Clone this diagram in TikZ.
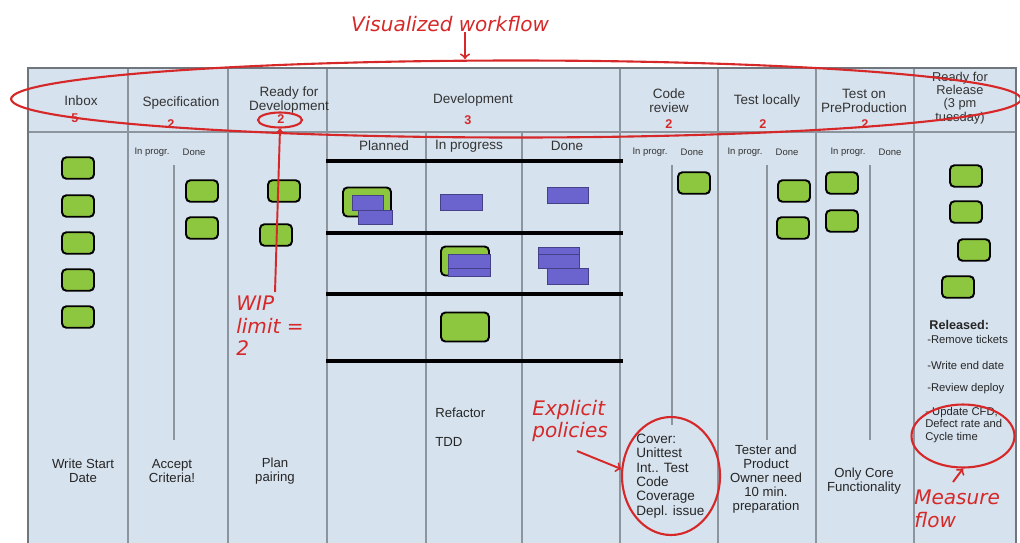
\documentclass[tikz,border=0pt]{standalone}
\usepackage{fontspec}
\setmainfont{Liberation Sans}
\newfontfamily\handfont{DejaVu Sans}
\usetikzlibrary{shapes.geometric}

\definecolor{boardbg}{RGB}{214,226,238}
\definecolor{lanegray}{RGB}{140,148,158}
\definecolor{cardgreen}{RGB}{141,198,63}
\definecolor{ticketblue}{RGB}{108,100,206}
\definecolor{annored}{RGB}{214,40,40}

\tikzset{
  lane/.style={draw=lanegray, line width=0.6pt},
  card/.style={draw=black, line width=1.1pt, fill=cardgreen, rounded corners=2.5pt,
    minimum width=0.64cm, minimum height=0.43cm, inner sep=0pt},
  bigcard/.style={card, minimum width=0.96cm, minimum height=0.58cm},
  ticket/.style={draw=ticketblue!65!black, line width=0.4pt, fill=ticketblue},
  head/.style={font=\fontsize{7.7}{7.9}\selectfont, align=center, text=black!80, inner sep=0pt},
  limit/.style={font=\bfseries\fontsize{7.2}{8}\selectfont, text=annored, inner sep=0pt},
  sub/.style={font=\fontsize{5.4}{6}\selectfont, text=black!80, inner sep=0pt},
  note/.style={font=\fontsize{7.5}{7.9}\selectfont, align=center, text=black!85, inner sep=0pt},
  small/.style={font=\fontsize{6.4}{7.1}\selectfont, align=left, text=black!85, inner sep=0pt, anchor=west},
  hand/.style={font=\handfont\itshape\fontsize{11.4}{12.8}\selectfont, text=annored, align=left, inner sep=0pt},
  ring/.style={ellipse, draw=annored, line width=1.2pt, inner sep=0pt},
  annot/.style={draw=annored, line width=1.1pt, ->},
}

\begin{document}
\begin{tikzpicture}[x=0.02cm, y=-0.02cm]
\useasboundingbox (0,0) rectangle (1020,542);

% board
\fill[boardbg] (28,68) rectangle (1016,545);
\draw[lane] (28,132) -- (1016,132);
\foreach \x in {128,228,327,620,718,816,914} \draw[lane] (\x,68) -- (\x,545);
\foreach \x in {426,522} \draw[lane] (\x,132) -- (\x,545);
\foreach \x/\e in {174/440,672/425,767/440,870/440} \draw[lane] (\x,165) -- (\x,\e);
\draw[draw=lanegray!80!black, line width=1.3pt] (28,545) -- (28,68) -- (1016,68) -- (1016,545);

% column heads
\node[head] (hin) at (81,101) {Inbox};
\node[head] (hsp) at (181,103) {Specification};
\node[head] (hrd) at (289,100) {Ready for\\Development};
\node[head] (hdv) at (473,100) {Development};
\node[head] (hcr) at (669,101) {Code\\review};
\node[head] (htl) at (767,101) {Test locally};
\node[head] (hpp) at (864,101) {Test on\\PreProduction};
\node[head, font=\fontsize{7.3}{7.6}\selectfont] (hrr) at (960,98) {Ready for\\Release\\(3 pm\\tuesday)};

\node[limit] (lin) at (75,118) {5};
\node[limit] (lsp) at (171,124) {2};
\node[limit] (lrd) at (281,119) {2};
\node[limit] (ldv) at (468,120) {3};
\node[limit] (lcr) at (669,124) {2};
\node[limit] (ltl) at (763,124) {2};
\node[limit] (lpp) at (865,124) {2};

% split columns
\foreach \x in {174,672,767,870} {
  \node[sub] (ip\x) at (\x-22,152) {In progr.};
  \node[sub] (dn\x) at (\x+20,152) {Done};
}
\node[head] (dvpl) at (384,146) {Planned};
\node[head] (dvip) at (469,146) {In progress};
\node[head] (dvdn) at (567,146) {Done};
\foreach \y in {161,233,294,361} \draw[line width=2.2pt] (326,\y) -- (623,\y);

% cards
\foreach \y [count=\i] in {168,206,243,280,317} \node[card] (in\i) at (78,\y) {};
\node[card] (sp1) at (202,191) {};
\node[card] (sp2) at (202,228) {};
\node[card] (rd1) at (284,191) {};
\node[card] (rd2) at (276,235) {};
\node[card] (cr1) at (694,183) {};
\node[card] (tl1) at (794,191) {};
\node[card] (tl2) at (793,228) {};
\node[card] (pp1) at (842,183) {};
\node[card] (pp2) at (842,221) {};
\node[card] (rr1) at (966,176) {};
\node[card] (rr2) at (966,212) {};
\node[card] (rr3) at (974,250) {};
\node[card] (rr4) at (958,287) {};

% development swimlanes
\node[bigcard] (pl1) at (367,202) {};
\filldraw[ticket] (352,195) rectangle (383,210);
\filldraw[ticket] (358,210) rectangle (392,224);
\filldraw[ticket] (440,194) rectangle (482,210);
\filldraw[ticket] (547,187) rectangle (588,203);
\node[bigcard] (pg2) at (465,261) {};
\filldraw[ticket] (448,254) rectangle (490,268);
\filldraw[ticket] (448,268) rectangle (490,276);
\filldraw[ticket] (538,247) rectangle (579,254);
\filldraw[ticket] (538,254) rectangle (579,268);
\filldraw[ticket] (547,268) rectangle (588,284);
\node[bigcard] (pg3) at (465,327) {};

% policies
\node[note] (pin) at (83,471) {Write Start\\Date};
\node[note] (psp) at (172,471) {Accept\\Criteria!};
\node[note] (prd) at (275,471) {Plan\\pairing};
\node[note, anchor=west] (prf) at (435,413) {Refactor};
\node[note, anchor=west] (ptd) at (435,442) {TDD};
\node[note, align=left, anchor=west, font=\fontsize{7.7}{8.2}\selectfont] (pcr) at (636,476)
  {Cover:\\Unittest\\Int.. Test\\Code\\Coverage\\Depl. issue};
\node[note] (ptl) at (766,479) {Tester and\\Product\\Owner need\\10 min.\\preparation};
\node[note] (ppp) at (864,481) {Only Core\\Functionality};
\node[small, font=\bfseries\fontsize{7.2}{8}\selectfont] (rel) at (929,325) {Released:};
\node[small] (rel1) at (927,339) {-Remove tickets};
\node[small] (rel2) at (927,365) {-Write end date};
\node[small] (rel3) at (927,389) {-Review deploy};
\node[small] (rel4) at (925,425) {- Update CFD,\\Defect rate and\\Cycle time};

% annotations
\node[hand] (vw) at (450,24) {Visualized workflow};
\node[ring, minimum width=20.2cm, minimum height=1.54cm] (flowring) at (516,99) {};
\coordinate (vwtip) at (465,59);
\draw[annot] (vw.south -| vwtip) -- (vwtip);

\node[ring, minimum width=0.88cm, minimum height=0.3cm] (wipring) at (280,120) {};
\node[hand, anchor=west] (wip) at (236,326) {WIP\\limit =\\2};
\coordinate (wiptail) at (275,292);
\draw[annot] (wiptail) -- (wipring.south);

\node[ring, minimum width=1.96cm, minimum height=2.36cm] (polring) at (671,476) {};
\node[hand, anchor=west] (ep) at (532,421) {Explicit\\policies};
\coordinate (eptail) at (577,451);
\draw[annot] (eptail) -- (polring.172);

\node[ring, minimum width=2.06cm, minimum height=1.26cm] (mring) at (963,436) {};
\node[hand, anchor=west] (mf) at (914,509) {Measure\\flow};
\coordinate (mftail) at (953,482);
\draw[annot] (mftail) -- (mring.south);
\end{tikzpicture}
\end{document}
